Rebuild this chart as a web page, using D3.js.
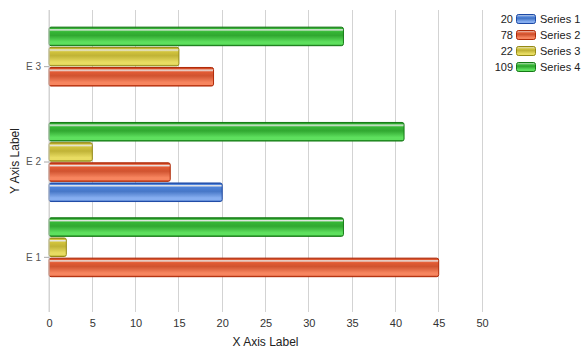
<!DOCTYPE html>
<html>
<head>
<meta charset="utf-8">
<script src="https://cdn.jsdelivr.net/npm/d3@7"></script>
<style>
body { margin: 0; background: #fff; }
text { font-family: "Liberation Sans", Arial, sans-serif; }
</style>
</head>
<body>
<div id="chart"></div>
<script>
// chart data
var categories = ["E 3", "E 2", "E 1"];
var seriesNames = ["Series 1", "Series 2", "Series 3", "Series 4"];
var series1 = [0, 20, 0];
var series2 = [19, 14, 45];
var series3 = [15, 5, 2];
var series4 = [34, 41, 34];
var xTicks = [0, 5, 10, 15, 20, 25, 30, 35, 40, 45, 50];

var seriesValues = [series1, series2, series3, series4];
// fill, dark edge, light stop
var colors = [
	{ base: "#4d82da", dark: "#1d4aa6", light: "#86aef0" },
	{ base: "#e35b34", dark: "#b02a08", light: "#f7855f" },
	{ base: "#d2c43c", dark: "#958a14", light: "#e8dc62" },
	{ base: "#36b836", dark: "#157a15", light: "#5ee05e" }
];

var width = 587, height = 356;
var plotLeft = 49, plotRight = 482, plotTop = 10, plotBottom = 312;

var svg = d3.select("#chart").append("svg")
	.attr("width", width)
	.attr("height", height);

var defs = svg.append("defs");
colors.forEach(function(c, i) {
	var g = defs.append("linearGradient")
		.attr("id", "grad" + i)
		.attr("x1", 0).attr("y1", 0).attr("x2", 0).attr("y2", 1);
	var stops = [
		[0, c.dark], [0.08, c.base], [0.14, "#e8e8e8"], [0.24, c.base],
		[0.45, d3.color(c.base).darker(0.25)], [0.8, c.light], [0.92, c.light], [1, c.dark]
	];
	stops.forEach(function(s) {
		g.append("stop").attr("offset", s[0]).attr("stop-color", s[1]);
	});
});

var x = d3.scaleLinear().domain([0, 50]).range([plotLeft, plotRight]);
var y = d3.scaleBand().domain(categories).range([19, 305]).paddingInner(0.16).paddingOuter(0.08);
// series 4 on top within each group
var ySub = d3.scaleBand().domain([3, 2, 1, 0]).range([0, y.bandwidth()]).paddingInner(0.03);

// grid lines
svg.append("g").selectAll("line")
	.data(xTicks)
	.enter().append("line")
	.attr("x1", x).attr("x2", x)
	.attr("y1", plotTop).attr("y2", plotBottom)
	.attr("stroke", "#d3d3d3")
	.attr("stroke-width", 1)
	.attr("shape-rendering", "crispEdges");

// bars
var groups = svg.append("g").selectAll("g")
	.data(categories)
	.enter().append("g")
	.attr("transform", function(d) { return "translate(0," + y(d) + ")"; });

groups.selectAll("rect")
	.data(function(d, ci) {
		return seriesValues.map(function(vals, si) { return { s: si, v: vals[ci] }; });
	})
	.enter().filter(function(d) { return d.v > 0; })
	.append("rect")
	.attr("x", x(0))
	.attr("y", function(d) { return ySub(d.s) + 0.5; })
	.attr("width", function(d) { return x(d.v) - x(0); })
	.attr("height", ySub.bandwidth() - 1)
	.attr("rx", 2)
	.attr("fill", function(d) { return "url(#grad" + d.s + ")"; })
	.attr("stroke", function(d) { return colors[d.s].dark; })
	.attr("stroke-width", 1);

// x axis
var xAxis = svg.append("g")
	.attr("transform", "translate(0," + plotBottom + ")")
	.call(d3.axisBottom(x).tickValues(xTicks).tickSize(0).tickPadding(7));
xAxis.select(".domain").remove();
xAxis.selectAll("text").attr("fill", "#333").style("font-size", "11px");

// y axis
var yAxis = svg.append("g")
	.attr("transform", "translate(" + plotLeft + ",0)")
	.call(d3.axisLeft(y).tickSize(5).tickPadding(3));
yAxis.select(".domain").attr("stroke", "#d3d3d3").attr("d", "M0," + plotTop + "V" + plotBottom);
yAxis.selectAll(".tick line").attr("stroke", "#aaa");
yAxis.selectAll("text").attr("fill", "#555").style("font-size", "10px");

// axis titles
svg.append("text")
	.attr("x", (plotLeft + plotRight) / 2).attr("y", 346)
	.attr("text-anchor", "middle")
	.style("font-size", "12px").attr("fill", "#222")
	.text("X Axis Label");
svg.append("text")
	.attr("transform", "translate(19," + (plotTop + plotBottom) / 2 + ") rotate(-90)")
	.attr("text-anchor", "middle")
	.style("font-size", "12px").attr("fill", "#222")
	.text("Y Axis Label");

// legend with totals
var legend = svg.append("g").selectAll("g")
	.data(seriesNames)
	.enter().append("g")
	.attr("transform", function(d, i) { return "translate(516," + (14 + i * 16) + ")"; });
legend.append("rect")
	.attr("x", 0.5).attr("y", 0.5)
	.attr("width", 19).attr("height", 9)
	.attr("rx", 2)
	.attr("fill", function(d, i) { return "url(#grad" + i + ")"; })
	.attr("stroke", function(d, i) { return colors[i].dark; });
legend.append("text")
	.attr("x", -3).attr("y", 9)
	.attr("text-anchor", "end")
	.style("font-size", "11px").attr("fill", "#222")
	.text(function(d, i) { return d3.sum(seriesValues[i]); });
legend.append("text")
	.attr("x", 24).attr("y", 9)
	.style("font-size", "11px").attr("fill", "#222")
	.text(function(d) { return d; });
</script>
</body>
</html>
